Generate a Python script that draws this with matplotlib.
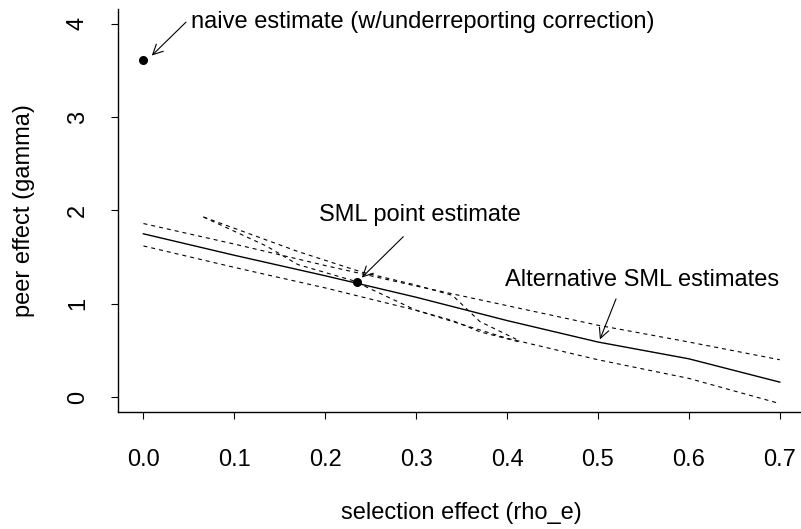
import numpy as np
import matplotlib.pyplot as plt

plt.rcParams['font.family'] = ['Liberation Sans', 'DejaVu Sans']

# main SML estimate and its bounds
rho = [0.0, 0.1, 0.2, 0.3, 0.4, 0.5, 0.6, 0.7]
gamma_sml = [1.75, 1.52, 1.30, 1.07, 0.82, 0.59, 0.41, 0.16]
gamma_upper = [1.86, 1.64, 1.41, 1.19, 0.98, 0.77, 0.59, 0.40]
gamma_lower = [1.62, 1.39, 1.17, 0.93, 0.63, 0.40, 0.20, -0.07]

# alternative SML estimates
rho_alt1 = [0.066, 0.17, 0.24, 0.30, 0.34, 0.37, 0.41]
gamma_alt1 = [1.93, 1.56, 1.34, 1.20, 1.09, 0.81, 0.62]
rho_alt2 = [0.066, 0.135, 0.17, 0.23, 0.30, 0.34, 0.37, 0.414]
gamma_alt2 = [1.93, 1.62, 1.42, 1.25, 0.93, 0.82, 0.70, 0.59]

# single estimates
naive_pt = (0.0, 3.61)
sml_pt = (0.235, 1.235)

fig = plt.figure(figsize=(8.01, 5.29), dpi=100)
ax = fig.add_axes([0.1473, 0.2212, 0.858, 0.7618])

dash = (0, (3.6, 3.6))
ax.plot(rho, gamma_sml, color='black', lw=1.0)
ax.plot(rho, gamma_upper, color='black', lw=0.8, linestyle=dash)
ax.plot(rho, gamma_lower, color='black', lw=0.8, linestyle=dash)
ax.plot(rho_alt1, gamma_alt1, color='black', lw=0.8, linestyle=dash)
ax.plot(rho_alt2, gamma_alt2, color='black', lw=0.8, linestyle=dash)

ax.plot(*naive_pt, 'o', color='black', ms=5.5)
ax.plot(*sml_pt, 'o', color='black', ms=5.5)

arrow = dict(arrowstyle='->', color='black', lw=0.8, mutation_scale=18)
fs = 17
ax.annotate('', xy=(0.007, 3.64), xytext=(0.049, 4.04), arrowprops=arrow)
ax.text(0.307, 4.02, 'naive estimate (w/underreporting correction)', fontsize=fs,
        ha='center', va='center')
ax.annotate('', xy=(0.238, 1.26), xytext=(0.288, 1.74), arrowprops=arrow)
ax.text(0.304, 1.95, 'SML point estimate', fontsize=fs, ha='center', va='center')
ax.annotate('', xy=(0.501, 0.59), xytext=(0.521, 1.08), arrowprops=arrow)
ax.text(0.549, 1.254, 'Alternative SML estimates', fontsize=fs, ha='center', va='center')

ax.set_xlim(-0.028, 0.728)
ax.set_ylim(-0.16, 4.16)
ax.set_xticks(rho)
ax.set_xticklabels(['%.1f' % v for v in rho])
ax.set_yticks([0, 1, 2, 3, 4])
ax.set_yticklabels(['0', '1', '2', '3', '4'], rotation=90, va='center')
ax.tick_params(direction='out', length=5, width=0.8, labelsize=fs)
ax.tick_params(axis='x', pad=21.5)
ax.tick_params(axis='y', pad=16)
ax.spines['top'].set_visible(False)
ax.spines['right'].set_visible(False)
for s in ['left', 'bottom']:
    ax.spines[s].set_linewidth(1.0)

fig.text(0.576, 0.0302, 'selection effect (rho_e)', fontsize=fs, ha='center', va='center')
fig.text(0.030, 0.602, 'peer effect (gamma)', fontsize=fs, ha='center', va='center',
         rotation=90)

fig.savefig('out.png', dpi=100)
